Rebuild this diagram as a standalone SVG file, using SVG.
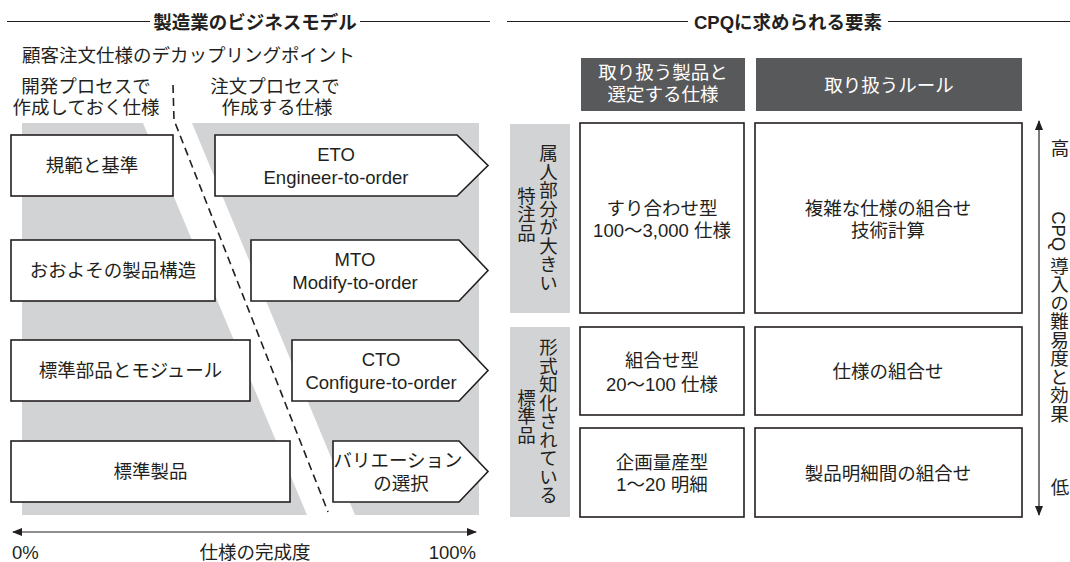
<svg xmlns="http://www.w3.org/2000/svg" width="1070" height="562" viewBox="0 0 1070 562">
<style>
.t{font-family:"Liberation Sans","Noto Sans CJK JP",sans-serif;font-size:18.5px;fill:#231f20}
.m{text-anchor:middle}
.w{fill:#ffffff}
.b{fill:#ffffff;stroke:#231f20;stroke-width:1.6}
.h{fill:#58595b}
.g{fill:#d1d3d4}
.v{writing-mode:vertical-rl;text-anchor:middle}
.rule{stroke:#231f20;stroke-width:1.2;fill:none}
.ttl{font-weight:bold}
</style>
<defs>
<marker id="ah" viewBox="0 0 10 8" refX="9" refY="4" markerWidth="10" markerHeight="8" markerUnits="userSpaceOnUse" orient="auto-start-reverse">
<path d="M0,0 L10,4 L0,8 Z" fill="#231f20"/>
</marker>
</defs>
<rect width="1070" height="562" fill="#ffffff"/>

<g id="titles">
<line class="rule" x1="7" y1="21.5" x2="150" y2="21.5"/>
<line class="rule" x1="360" y1="21.5" x2="490" y2="21.5"/>
<text class="t m ttl" x="255" y="28.5">製造業のビジネスモデル</text>
<line class="rule" x1="507" y1="21.5" x2="688" y2="21.5"/>
<line class="rule" x1="888" y1="21.5" x2="1070" y2="21.5"/>
<text class="t m ttl" x="788" y="28.5">CPQに求められる要素</text>
</g>

<g id="background">
<polygon class="g" points="22,123 143,123 307,515 22,515"/>
<polygon class="g" points="192,123 479,123 479,515 355,515"/>
</g>

<g id="labels-left">
<text class="t" x="22" y="61.5">顧客注文仕様のデカップリングポイント</text>
<text class="t m" x="86" y="93">開発プロセスで</text>
<text class="t m" x="86" y="114">作成しておく仕様</text>
<text class="t m" x="275" y="93">注文プロセスで</text>
<text class="t m" x="277" y="114">作成する仕様</text>
</g>

<g id="connectors">
<path d="M173,85 L174,120 L328,512" fill="none" stroke="#231f20" stroke-width="1.6" stroke-dasharray="8 5"/>
<line x1="13" y1="532" x2="476" y2="532" stroke="#231f20" stroke-width="1.2" marker-start="url(#ah)" marker-end="url(#ah)"/>
<line x1="1039" y1="121" x2="1039" y2="515" stroke="#58595b" stroke-width="1.6" marker-start="url(#ah)" marker-end="url(#ah)"/>
</g>

<g id="node-kihan">
<rect class="b" x="11" y="135" width="162" height="61"/>
<text class="t m" x="92" y="172">規範と基準</text>
</g>
<g id="node-ooyoso">
<rect class="b" x="11" y="240" width="204" height="61"/>
<text class="t m" x="113" y="277">おおよその製品構造</text>
</g>
<g id="node-hyojunbuhin">
<rect class="b" x="11" y="340" width="239" height="61"/>
<text class="t m" x="130.5" y="377">標準部品とモジュール</text>
</g>
<g id="node-hyojunseihin">
<rect class="b" x="11" y="441" width="279" height="61"/>
<text class="t m" x="150.5" y="478">標準製品</text>
</g>

<g id="node-eto">
<path class="b" d="M215,135 H457 L488,165.5 L457,196 H215 Z"/>
<text class="t m" x="336" y="160.5">ETO</text>
<text class="t m" x="336" y="183.5">Engineer-to-order</text>
</g>
<g id="node-mto">
<path class="b" d="M251,240 H459 L488,270.5 L459,301 H251 Z"/>
<text class="t m" x="355" y="265.5">MTO</text>
<text class="t m" x="355" y="288.5">Modify-to-order</text>
</g>
<g id="node-cto">
<path class="b" d="M292,340 H459 L488,370.5 L459,401 H292 Z"/>
<text class="t m" x="381" y="365.5">CTO</text>
<text class="t m" x="381" y="388.5">Configure-to-order</text>
</g>
<g id="node-variation">
<path class="b" d="M333,441 H459 L488,471.5 L459,502 H333 Z"/>
<text class="t m" x="398" y="466.5">バリエーション</text>
<text class="t m" x="401" y="489.5">の選択</text>
</g>

<g id="axis-labels">
<text class="t" x="12" y="559">0%</text>
<text class="t m" x="255" y="559">仕様の完成度</text>
<text class="t" x="476" y="559" text-anchor="end">100%</text>
</g>

<g id="header-products">
<rect class="h" x="581" y="58" width="164" height="53"/>
<text class="t m w" x="663" y="78.5">取り扱う製品と</text>
<text class="t m w" x="663" y="100.5">選定する仕様</text>
</g>
<g id="header-rules">
<rect class="h" x="756" y="58" width="266" height="53"/>
<text class="t m w" x="889" y="91.5">取り扱うルール</text>
</g>

<g id="label-tokuchu">
<rect class="g" x="510" y="124" width="60" height="189"/>
<text class="t v" x="547" y="218">属人部分が大きい</text>
<text class="t v" x="525" y="214">特注品</text>
</g>
<g id="label-hyojun">
<rect class="g" x="510" y="327" width="60" height="190"/>
<text class="t v" x="547" y="421">形式知化されている</text>
<text class="t v" x="525" y="416">標準品</text>
</g>

<g id="cell-suriawase">
<rect class="b" x="580" y="123" width="164" height="190"/>
<text class="t m" x="662" y="214.5">すり合わせ型</text>
<text class="t m" x="662" y="236.5">100〜3,000 仕様</text>
</g>
<g id="cell-fukuzatsu">
<rect class="b" x="755" y="123" width="267" height="190"/>
<text class="t m" x="888" y="214.5">複雑な仕様の組合せ</text>
<text class="t m" x="888" y="236.5">技術計算</text>
</g>
<g id="cell-kumiawase">
<rect class="b" x="580" y="327" width="164" height="88"/>
<text class="t m" x="662" y="366.5">組合せ型</text>
<text class="t m" x="662" y="390.5">20〜100 仕様</text>
</g>
<g id="cell-shiyo">
<rect class="b" x="755" y="327" width="267" height="88"/>
<text class="t m" x="888" y="377.5">仕様の組合せ</text>
</g>
<g id="cell-kikaku">
<rect class="b" x="580" y="428" width="164" height="89"/>
<text class="t m" x="662" y="468.5">企画量産型</text>
<text class="t m" x="662" y="490.5">1〜20 明細</text>
</g>
<g id="cell-meisai">
<rect class="b" x="755" y="428" width="267" height="89"/>
<text class="t m" x="888" y="479.5">製品明細間の組合せ</text>
</g>

<g id="scale-labels">
<text class="t m" x="1060" y="154.5">高</text>
<text class="t v" x="1058" y="317">CPQ 導入の難易度と効果</text>
<text class="t m" x="1060" y="493.5">低</text>
</g>
</svg>
